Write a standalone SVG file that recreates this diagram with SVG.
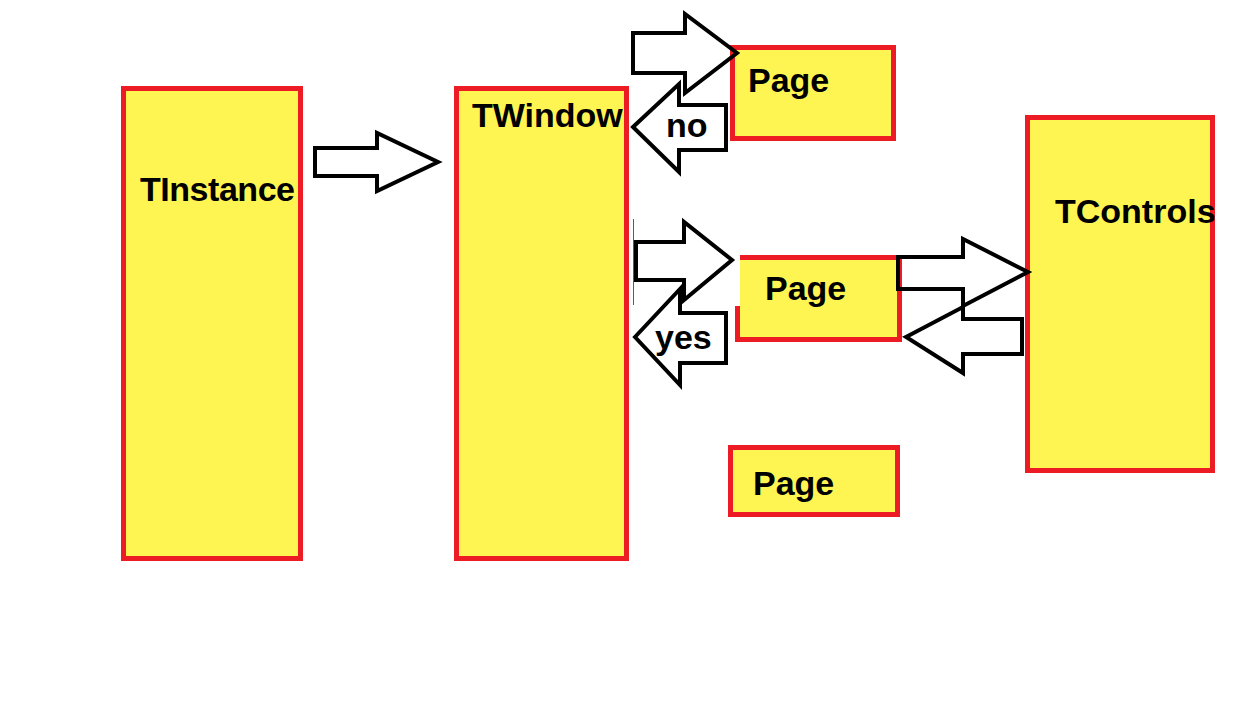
<svg xmlns="http://www.w3.org/2000/svg" width="1246" height="722" viewBox="0 0 1246 722">
  <style>
    .box { fill: #fff552; stroke: #ed1c24; stroke-width: 5; }
    .fill { fill: #fff552; }
    .edge { fill: none; stroke: #ed1c24; stroke-width: 5; }
    .lbl { font-family: "Liberation Sans", Arial, sans-serif; font-weight: bold; font-size: 34px; fill: #000; }
    .arrow { fill: none; stroke: #000; stroke-width: 4; stroke-linejoin: miter; }
  </style>
  <rect width="1246" height="722" fill="#fff"/>
  <g id="tinstance">
    <rect class="box" x="123.5" y="88.5" width="177" height="470"/>
    <text class="lbl" x="140" y="201" textLength="155">TInstance</text>
  </g>
  <g id="twindow">
    <rect class="box" x="456.5" y="88.5" width="170" height="470"/>
    <line x1="633.5" y1="219" x2="633.5" y2="305" stroke="#ed1c24" stroke-width="1"/>
    <text class="lbl" x="472" y="127">TWindow</text>
  </g>
  <g id="page1">
    <rect class="box" x="732.5" y="47.5" width="161" height="91"/>
    <text class="lbl" x="748" y="92">Page</text>
  </g>
  <g id="page2">
    <rect class="fill" x="740" y="257.5" width="159.5" height="82"/>
    <path class="edge" d="M740,257.5 H899.5 V339.5 H737.5 V306"/>
    <text class="lbl" x="765" y="300">Page</text>
  </g>
  <g id="page3">
    <rect class="box" x="730.5" y="447.5" width="167" height="67"/>
    <text class="lbl" x="753" y="495">Page</text>
  </g>
  <g id="tcontrols">
    <rect class="box" x="1027.5" y="117.5" width="185" height="353"/>
    <text class="lbl" x="1055" y="223">TControls</text>
  </g>
  <g id="connectors">
    <polygon class="arrow" points="315,148 377,148 377,133 438,162 377,191 377,176 315,176"/>
    <polygon class="arrow" points="633,33 685,33 685,14 737,53 685,93 685,73 633,73"/>
    <polygon class="arrow" points="633,127 679,84 679,105 726,105 726,150 679,150 679,172"/>
    <text class="lbl" x="666" y="137">no</text>
    <polygon class="arrow" points="636,242 684,242 684,222 732,260 684,300 684,280 636,280"/>
    <polygon class="arrow" points="635,337 680,289 680,313 726,313 726,363 680,363 680,385"/>
    <text class="lbl" x="655" y="349">yes</text>
    <polygon class="arrow" points="898,257 963,257 963,239 1028,272 963,306 963,289 898,289"/>
    <polygon class="arrow" points="906,337 963,307 963,319 1022,319 1022,354 963,354 963,373"/>
  </g>
</svg>
